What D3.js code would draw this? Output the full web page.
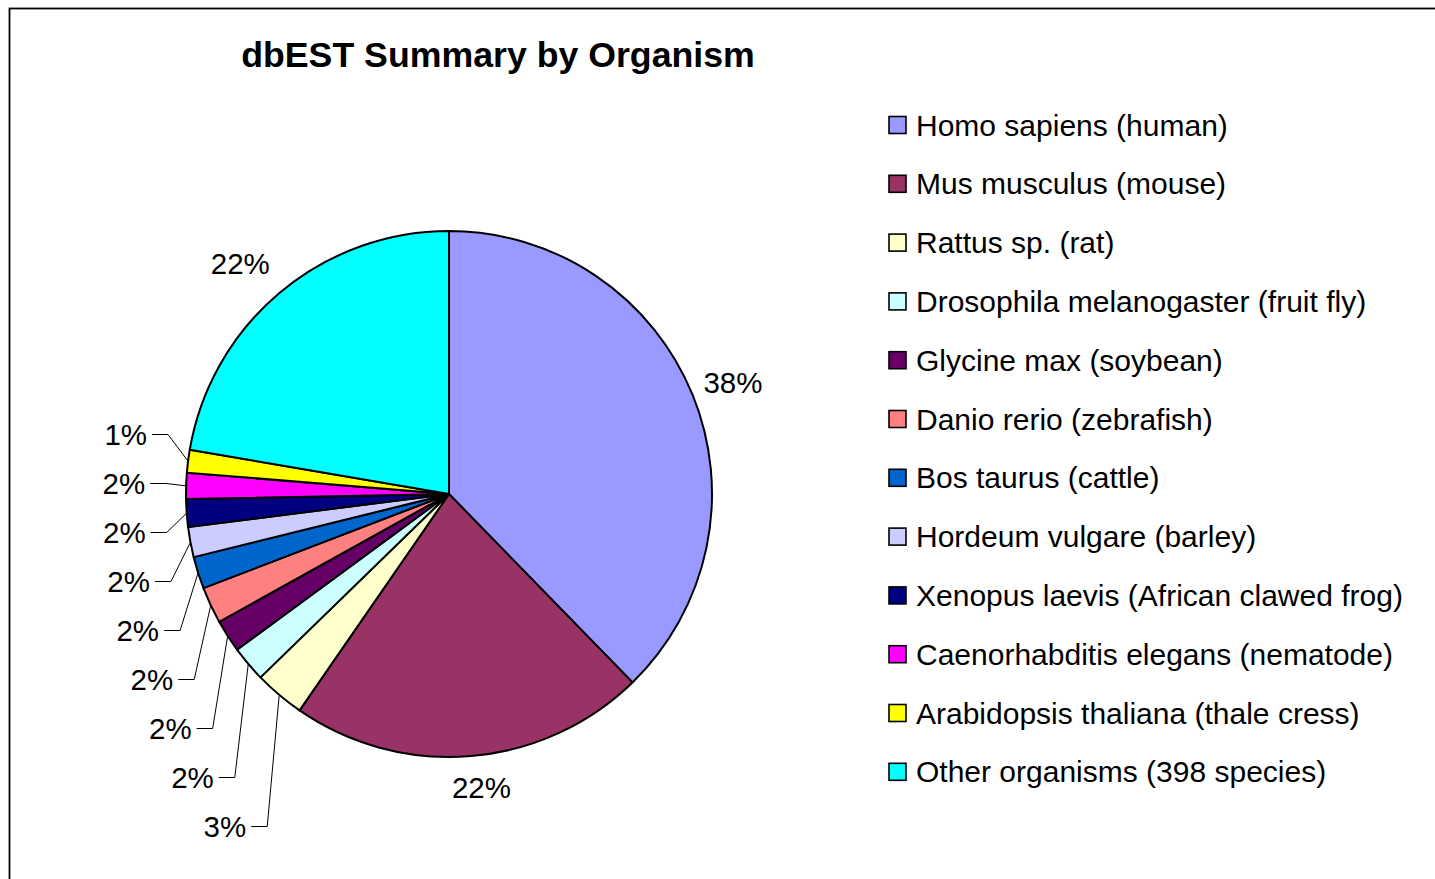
<!DOCTYPE html>
<html><head><meta charset="utf-8">
<script src="https://cdn.jsdelivr.net/npm/d3@7"></script>
<style>
body{margin:0;background:#fff}
svg{display:block}
text{font-family:"Liberation Sans",Arial,Helvetica,sans-serif;fill:#000}
</style>
</head><body>
<svg id="chart" width="1435" height="879"></svg>
<script>
const title = "dbEST Summary by Organism";
const categories = [
  "Homo sapiens (human)",
  "Mus musculus (mouse)",
  "Rattus sp. (rat)",
  "Drosophila melanogaster (fruit fly)",
  "Glycine max (soybean)",
  "Danio rerio (zebrafish)",
  "Bos taurus (cattle)",
  "Hordeum vulgare (barley)",
  "Xenopus laevis (African clawed frog)",
  "Caenorhabditis elegans (nematode)",
  "Arabidopsis thaliana (thale cress)",
  "Other organisms (398 species)"
];
const values = [37.7, 21.9, 3.1, 2.2, 2.0, 2.25, 1.97, 1.85, 1.7, 1.6, 1.4, 22.3];
const colors = ["#9999FF","#993366","#FFFFCC","#CCFFFF","#660066","#FF8080",
                "#0066CC","#CCCCFF","#000080","#FF00FF","#FFFF00","#00FFFF"];

const svg = d3.select("#chart");
const W = 1435, H = 879;

// frame
svg.append("rect").attr("x", 9.5).attr("y", 8.5).attr("width", W + 20).attr("height", H + 20)
  .attr("fill", "#fff").attr("stroke", "#000").attr("stroke-width", 1.8);

// title
svg.append("text").attr("x", 498).attr("y", 67).attr("text-anchor", "middle")
  .attr("font-size", 35.7).attr("font-weight", "bold").text(title);

const cx = 449, cy = 494, R = 263;
const total = d3.sum(values);
const pct = v => Math.round(v / total * 100) + "%";

const pie = d3.pie().sort(null).value(d => d)(values);
const arc = d3.arc().innerRadius(0).outerRadius(R);
const g = svg.append("g").attr("transform", `translate(${cx},${cy})`);

g.selectAll("path.slice").data(pie).join("path")
  .attr("class", "slice")
  .attr("d", arc)
  .attr("fill", (d, i) => colors[i])
  .attr("stroke", "#000").attr("stroke-width", 2).attr("stroke-linejoin", "round");

const mid = d => (d.startAngle + d.endAngle) / 2;
const pt = (a, r) => [r * Math.sin(a), -r * Math.cos(a)];
const deg = Math.PI / 180;

const fs = 29.5;
// labels for large slices: placed outside near mid-angle (radial gap, angular nudge)
const bigIdx = [0, 1, 11];
const bigGap = [42, 32, 48];
const bigNudge = [0.7, -1.5, -2];
bigIdx.forEach((i, k) => {
  const [x, y] = pt(mid(pie[i]) + bigNudge[k] * deg, R + bigGap[k]);
  g.append("text").attr("x", x).attr("y", y).attr("dy", "0.35em")
    .attr("text-anchor", "middle").attr("font-size", fs).text(pct(values[i]));
});

// small slices with leader lines, stacked labels on the left
const smallIdx = d3.range(2, 11);
const gap = 49, bottomY = 332.5;
smallIdx.forEach((idx, k) => {
  const d = pie[idx];
  const [ex, ey] = pt(mid(d), R);
  const ly = bottomY - gap * k;
  const elbowX = ex - Math.min(20, 12 + 1.5 * k);
  g.append("path")
    .attr("d", `M${ex},${ey}L${elbowX},${ly}L${elbowX - 16},${ly}`)
    .attr("fill", "none").attr("stroke", "#000").attr("stroke-width", 1);
  g.append("text").attr("x", elbowX - 21).attr("y", ly).attr("dy", "0.35em")
    .attr("text-anchor", "end").attr("font-size", fs).text(pct(values[idx]));
});

// legend
const legX = 889, legY0 = 125, legStep = 58.8, sw = 17;
const leg = svg.append("g");
categories.forEach((c, i) => {
  const y = legY0 + legStep * i;
  leg.append("rect").attr("x", legX).attr("y", y - sw / 2).attr("width", sw).attr("height", sw)
    .attr("fill", colors[i]).attr("stroke", "#000").attr("stroke-width", 1.6);
  leg.append("text").attr("x", legX + 27).attr("y", y).attr("dy", "0.35em")
    .attr("font-size", 30).text(c);
});
</script>
</body></html>
